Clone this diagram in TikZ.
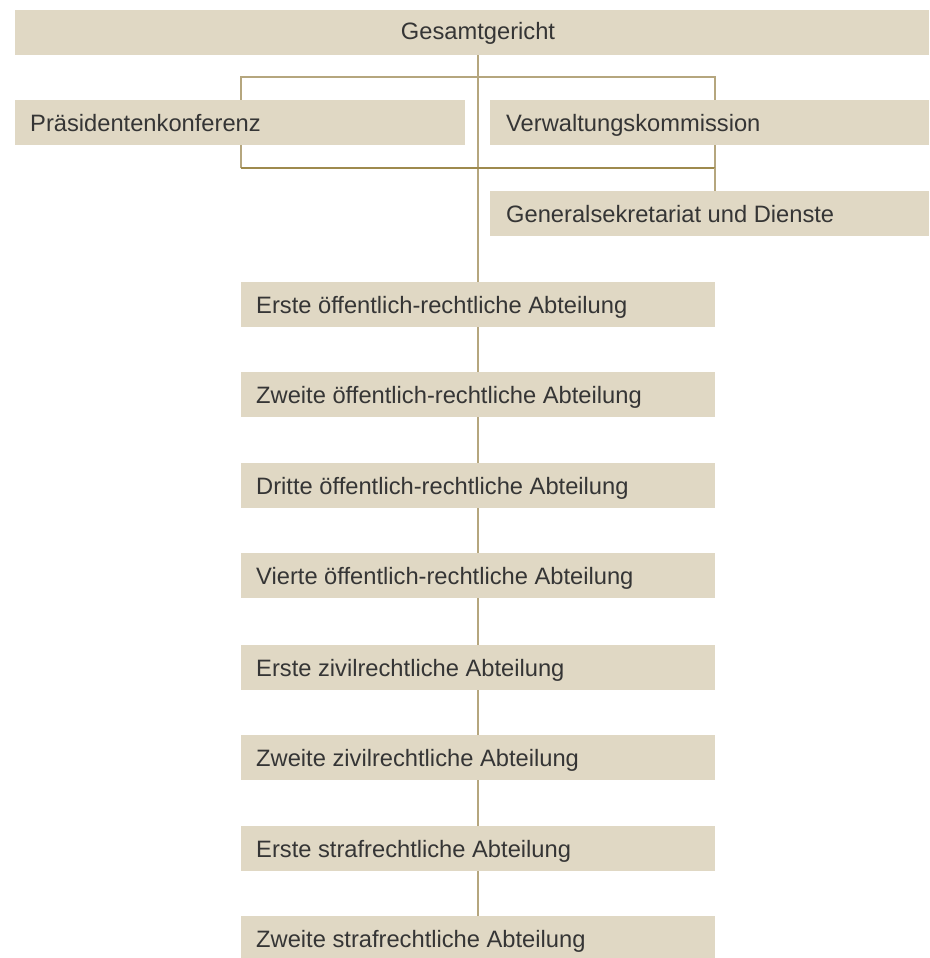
\documentclass[tikz,border=0pt]{standalone}
\usepackage{fontspec}
\setmainfont{Liberation Sans}
\definecolor{boxfill}{HTML}{E0D8C4}
\definecolor{linecol}{HTML}{B5A67E}
\definecolor{linedark}{HTML}{9E8A4E}
\definecolor{textcol}{HTML}{353535}
\tikzset{
  box/.style={fill=boxfill, draw=none},
  lbl/.style={anchor=base west, inner sep=0pt, text=textcol, font=\fontsize{23.7}{28}\selectfont},
  clbl/.style={anchor=base, inner sep=0pt, text=textcol, font=\fontsize{23.7}{28}\selectfont},
  conn/.style={draw=linecol, line width=1.4pt},
  conndark/.style={draw=linedark, line width=1.6pt}
}
\begin{document}
\begin{tikzpicture}[x=1pt,y=-1pt]
\useasboundingbox (0,0) rectangle (929,958);
% bracket rectangle behind boxes
\coordinate (bTL) at (241,77);
\coordinate (bTR) at (715,77);
\coordinate (bBL) at (241,168);
\coordinate (bBR) at (715,168);
\draw[conn] (bBL) -- (bTL) -- (bTR) -- (bBR);
% main vertical spine
\coordinate (spTop) at (478,55);
\coordinate (spBot) at (478,916);
\draw[conn] (spTop) -- (spBot);
\draw[conndark] (bBL) -- (bBR);
% connector to Generalsekretariat
\coordinate (gsTop) at (715,191);
\draw[conn] (bBR) -- (gsTop);
% boxes
\fill[box] (15,10) rectangle (929,55);
\node[clbl] (gesamt) at (478,40) {Gesamtgericht};
\fill[box] (15,100) rectangle (465,145);
\node[lbl] (praes) at (30,131) {Präsidentenkonferenz};
\fill[box] (490,100) rectangle (929,145);
\node[lbl] (verw) at (506,131) {Verwaltungskommission};
\fill[box] (490,191) rectangle (929,236);
\node[lbl] (gensek) at (506,222) {Generalsekretariat und Dienste};
\foreach \y/\t/\n in {282/Erste öffentlich-rechtliche Abteilung/a1,
                      372/Zweite öffentlich-rechtliche Abteilung/a2,
                      463/Dritte öffentlich-rechtliche Abteilung/a3,
                      553/Vierte öffentlich-rechtliche Abteilung/a4,
                      645/Erste zivilrechtliche Abteilung/a5,
                      735/Zweite zivilrechtliche Abteilung/a6,
                      826/Erste strafrechtliche Abteilung/a7,
                      916/Zweite strafrechtliche Abteilung/a8}{
  \fill[box] (241,\y) rectangle (715,\y+45);
  \node[lbl] (\n) at (256,\y+31.5) {\t};
}
\end{tikzpicture}
\end{document}
